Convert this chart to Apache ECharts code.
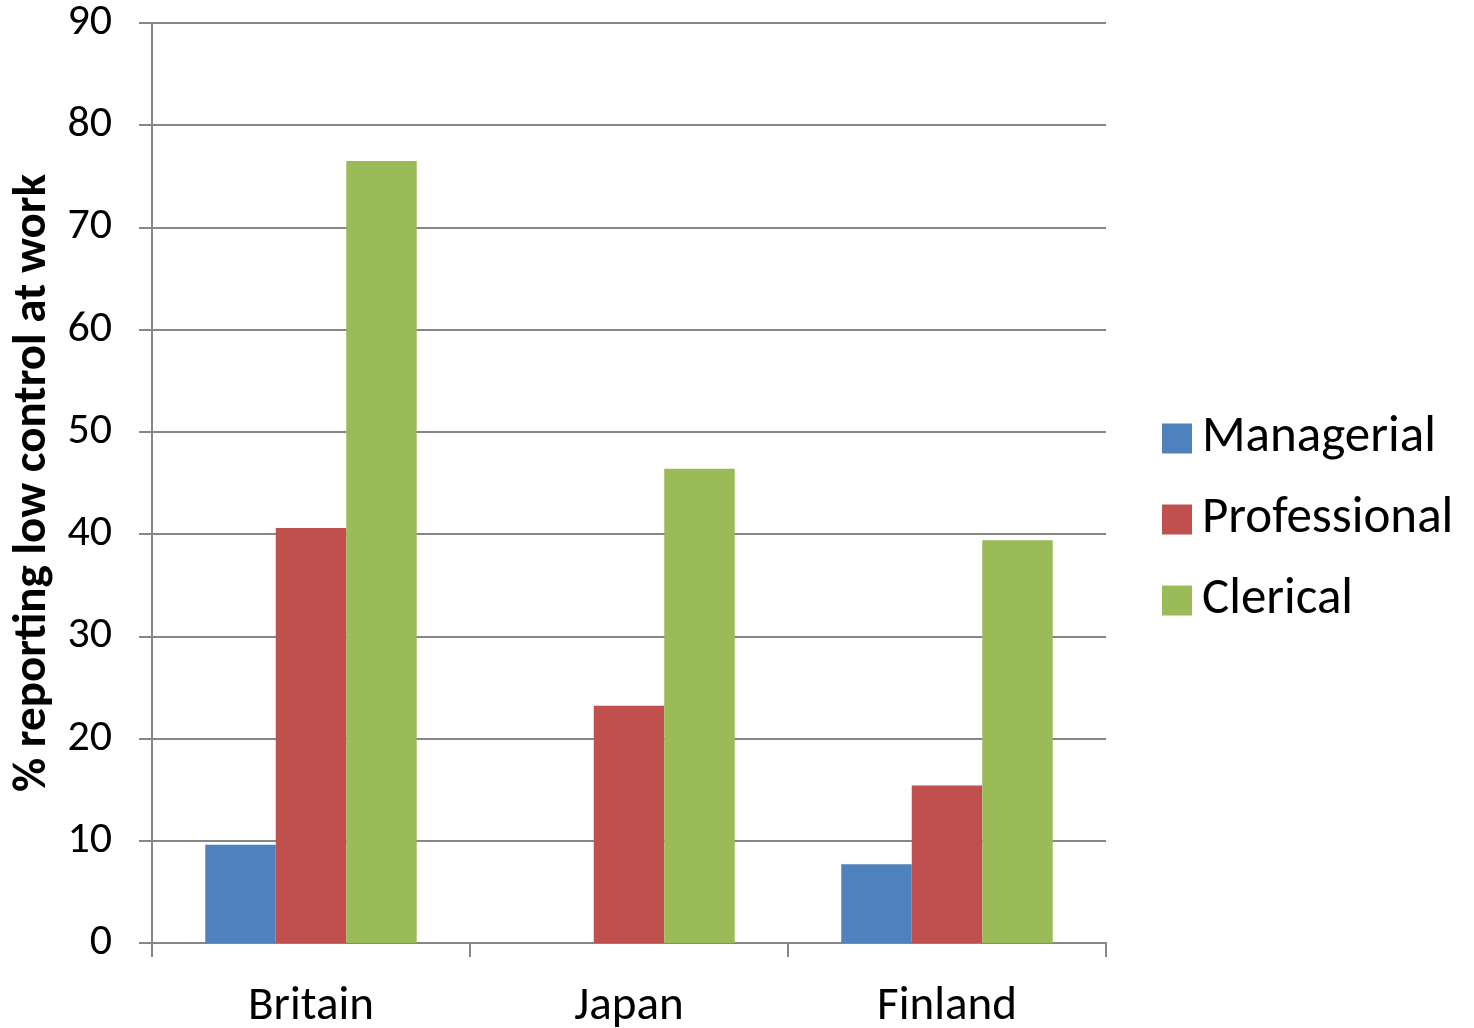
<!DOCTYPE html>
<html>
<head>
<meta charset="utf-8">
<script src="https://cdn.jsdelivr.net/npm/echarts@6/dist/echarts.min.js"></script>
<style>
  html, body { margin: 0; padding: 0; background: #fff; }
  #chart { width: 1474px; height: 1028px; }
</style>
</head>
<body>
<div id="chart"></div>
<script>
  // data
  let countries = ['Britain', 'Japan', 'Finland'];
  let managerial = [9.6, 0, 7.7];
  let professional = [40.6, 23.2, 15.4];
  let clerical = [76.5, 46.4, 39.4];
  let yTicks = { min: 0, max: 90, interval: 10 };

  let font = 'Carlito, Lato, sans-serif';
  let axisGray = '#868686';

  let chart = echarts.init(document.getElementById('chart'));

  let barSeries = (name, data) => {
    return {
      name: name,
      type: 'bar',
      data: data,
      barGap: 0,
      barCategoryGap: '33.5%',
      emphasis: { disabled: true }
    }
  };

  chart.setOption({
    animation: false,
    color: ['#4F81BD', '#C0504D', '#9BBB59'],
    legend: {
      orient: 'vertical',
      left: 1157,
      top: 408,
      itemWidth: 30,
      itemHeight: 30,
      itemGap: 30,
      icon: 'rect',
      textStyle: { fontFamily: font, fontSize: 51, color: '#000', padding: [0, 0, 0, 5] },
      data: ['Managerial', 'Professional', 'Clerical']
    },
    grid: {
      left: 152,
      right: 368,
      top: 23,
      bottom: 85,
      outerBoundsMode: 'none'
    },
    xAxis: {
      type: 'category',
      data: countries,
      axisLine: { lineStyle: { color: axisGray, width: 2 } },
      axisTick: { show: true, length: 14, lineStyle: { color: axisGray, width: 2 } },
      axisLabel: { fontFamily: font, fontSize: 47, color: '#000', margin: 41 }
    },
    yAxis: {
      type: 'value',
      min: yTicks.min,
      max: yTicks.max,
      interval: yTicks.interval,
      name: '% reporting low control at work',
      nameLocation: 'middle',
      nameGap: 92,
      nameTextStyle: { fontFamily: font, fontSize: 47, fontWeight: 'bold', color: '#000' },
      axisLine: { show: true, lineStyle: { color: axisGray, width: 2 } },
      axisTick: { show: true, length: 13, lineStyle: { color: axisGray, width: 2 } },
      axisLabel: { fontFamily: font, fontSize: 44, color: '#000', margin: 40 },
      splitLine: { lineStyle: { color: axisGray, width: 2 } }
    },
    series: [
      barSeries('Managerial', managerial),
      barSeries('Professional', professional),
      barSeries('Clerical', clerical)
    ]
  });
</script>
</body>
</html>
